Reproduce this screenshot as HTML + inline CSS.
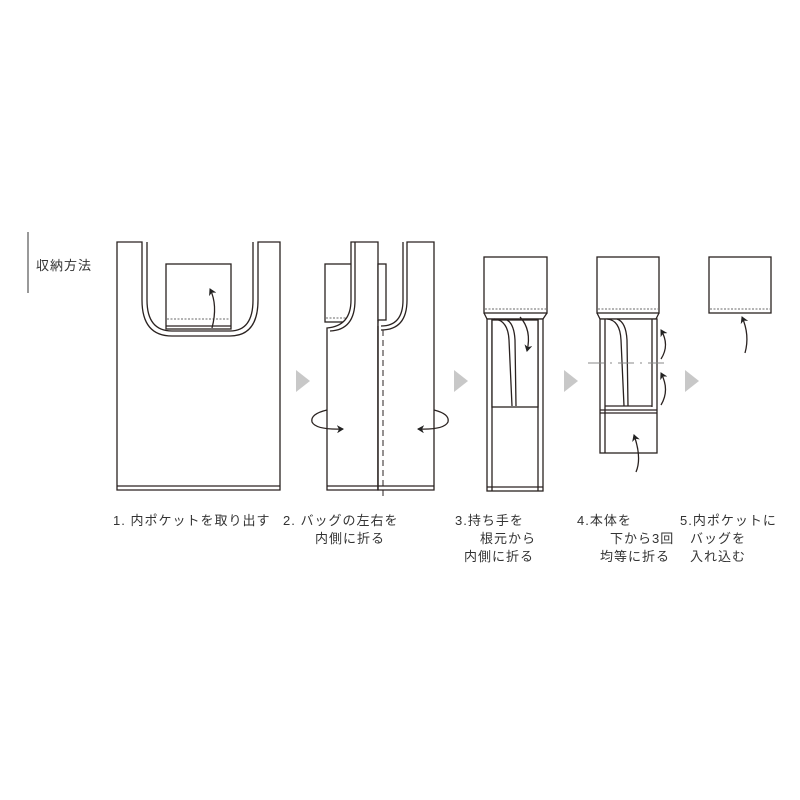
<!DOCTYPE html>
<html><head><meta charset="utf-8"><style>
html,body{margin:0;padding:0;background:#fff;}
svg{display:block}
text{font-family:"Liberation Sans","Noto Sans CJK JP",sans-serif;font-size:13px;fill:#333;letter-spacing:1px}
</style></head><body>
<svg width="800" height="800" viewBox="0 0 800 800">
<defs>
<marker id="ah" markerWidth="8" markerHeight="8" refX="6" refY="4" orient="auto" markerUnits="userSpaceOnUse"><path d="M0,0 L7,4 L0,8 L2,4 Z" fill="#222"/></marker>
</defs>
<g fill="none" stroke="#2a2220" stroke-width="1.3">
<line x1="28" y1="232" x2="28" y2="293" stroke="#333" stroke-width="1"/>
<!-- bag 1 -->
<path d="M117,242 H142 V300 Q142,336 172,336 H230 Q258,336 258,300 V242 H280 V490 H117 Z" fill="#fff"/>
<path d="M147,242 V300 Q147,331 172,331 H230 Q253,331 253,300 V242"/>
<line x1="117" y1="486" x2="280" y2="486"/>
<rect x="166" y="264" width="65" height="65" fill="#fff"/>
<line x1="167" y1="319" x2="230" y2="319" stroke="#888" stroke-dasharray="2,1.5"/>
<line x1="166" y1="326" x2="231" y2="326"/>
<path d="M212,328 Q218,305 210,289" marker-end="url(#ah)"/>
<!-- bag 2 -->
<rect x="325" y="264" width="27" height="58" fill="#fff"/>
<line x1="326" y1="318" x2="351" y2="318" stroke="#888" stroke-dasharray="2,1.5"/>
<path d="M327,330 V490 H378 V242 H351 V300 Q351,326 327,328 Z" fill="#fff"/>
<path d="M355,242 V300 Q355,330 330,331"/>
<rect x="378" y="264" width="8" height="56" fill="#fff"/>
<path d="M378,320 V490 H434 V242 H407 V300 Q407,330 381,330" fill="#fff"/>
<path d="M403,242 V300 Q403,326 381,326"/>
<line x1="327" y1="486" x2="434" y2="486"/>
<line x1="378" y1="326" x2="378" y2="490"/>
<line x1="383" y1="330" x2="383" y2="498" stroke-dasharray="6,4" stroke-width="1"/>
<path d="M327,410 Q310,414 312,422 Q316,430 343,429" marker-end="url(#ah)"/>
<path d="M434,410 Q450,414 448,422 Q444,430 418,429" marker-end="url(#ah)"/>
<!-- bag 3 -->
<rect x="484" y="257" width="63" height="56" fill="#fff"/>
<line x1="485" y1="309" x2="546" y2="309" stroke="#888" stroke-dasharray="2,1.5"/>
<path d="M484,313 L487,319 H543 L547,313"/>
<rect x="487" y="319" width="56" height="172" fill="#fff"/>
<line x1="492" y1="319" x2="492" y2="491"/>
<line x1="538" y1="319" x2="538" y2="491"/>
<line x1="487" y1="487" x2="543" y2="487"/>
<rect x="492" y="320" width="46" height="87" fill="#fff"/>
<path d="M494,319 Q508,320 509,340 L512,406"/>
<path d="M505,319 Q514,322 515,340 L516,406"/>
<path d="M520,317 Q532,330 527,351" marker-end="url(#ah)"/>
<!-- bag 4 -->
<rect x="597" y="257" width="62" height="56" fill="#fff"/>
<line x1="598" y1="309" x2="658" y2="309" stroke="#888" stroke-dasharray="2,1.5"/>
<path d="M597,313 L600,319 H656 L659,313"/>
<rect x="600" y="319" width="57" height="134" fill="#fff"/>
<line x1="605" y1="319" x2="605" y2="453"/>
<line x1="652" y1="319" x2="652" y2="407"/>
<line x1="605" y1="406" x2="652" y2="406"/>
<line x1="600" y1="410" x2="657" y2="410"/>
<line x1="600" y1="413" x2="657" y2="413"/>
<path d="M607,319 Q620,320 621,340 L624,406"/>
<path d="M617,319 Q626,322 627,340 L628,406"/>
<line x1="588" y1="363" x2="666" y2="363" stroke="#888" stroke-dasharray="16,6,2,6" stroke-width="1"/>
<path d="M661,359 Q670,345 661,330" marker-end="url(#ah)"/>
<path d="M661,405 Q670,390 661,373" marker-end="url(#ah)"/>
<path d="M636,472 Q642,458 634,435" marker-end="url(#ah)"/>
<!-- bag 5 -->
<rect x="709" y="257" width="62" height="56" fill="#fff"/>
<line x1="710" y1="309" x2="770" y2="309" stroke="#888" stroke-dasharray="2,1.5"/>
<path d="M745,353 Q750,335 742,317" marker-end="url(#ah)"/>
</g>
<g fill="#c8c8c8">
<path d="M296,370 L310,381 L296,392 Z"/>
<path d="M454,370 L468,381 L454,392 Z"/>
<path d="M564,370 L578,381 L564,392 Z"/>
<path d="M685,370 L699,381 L685,392 Z"/>
</g>
<text x="36" y="270">収納方法</text>
<text x="113" y="525">1. 内ポケットを取り出す</text>
<text x="283" y="525">2. バッグの左右を</text>
<text x="315" y="543">内側に折る</text>
<text x="455" y="525">3.持ち手を</text>
<text x="480" y="543">根元から</text>
<text x="464" y="561">内側に折る</text>
<text x="577" y="525">4.本体を</text>
<text x="610" y="543">下から3回</text>
<text x="600" y="561">均等に折る</text>
<text x="680" y="525">5.内ポケットに</text>
<text x="690" y="543">バッグを</text>
<text x="690" y="561">入れ込む</text>
</svg>
</body></html>
